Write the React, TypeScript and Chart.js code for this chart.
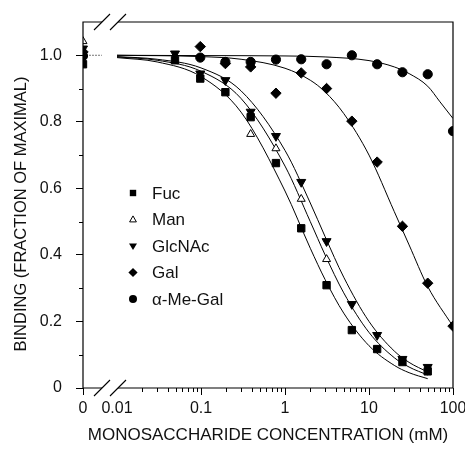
import React, { useEffect, useRef } from 'react';
import { Chart, registerables } from 'chart.js';

Chart.register(...registerables);

// ---------- data ----------
// position on the log axis used for concentration "0" (left of the axis break)
const ZERO_POS = -2.405;

const xTickValues = [ZERO_POS, -2, -1, 0, 1, 2];
const xTickLabels = ['0', '0.01', '0.1', '1', '10', '100'];
const yTickValues = [0, 0.2, 0.4, 0.6, 0.8, 1.0];
const yTickLabels = ['0', '0.2', '0.4', '0.6', '0.8', '1.0'];
const yMinorTicks = [0.1, 0.3, 0.5, 0.7, 0.9];
const xMinorDecades = [-2, -1, 0, 1];

const seriesNames = ['Fuc', 'Man', 'GlcNAc', 'Gal', 'α-Me-Gal'];
const xTitle = 'MONOSACCHARIDE CONCENTRATION (mM)';
const yTitle = 'BINDING (FRACTION OF MAXIMAL)';

const fucConc = [0, 0.049, 0.098, 0.195, 0.39, 0.78, 1.56, 3.125, 6.25, 12.5, 25, 50];
const fucBinding = [0.973, 0.985, 0.93, 0.889, 0.814, 0.676, 0.48, 0.309, 0.174, 0.117, 0.078, 0.05];

const manConc = [0, 0.39, 0.78, 1.56, 3.125];
const manBinding = [1.042, 0.763, 0.72, 0.568, 0.387];

const glcConc = [0, 0.049, 0.098, 0.195, 0.39, 0.78, 1.56, 3.125, 6.25, 12.5, 25, 50];
const glcBinding = [1.02, 1.005, 0.945, 0.925, 0.83, 0.757, 0.619, 0.441, 0.252, 0.159, 0.087, 0.063];

const galConc = [0, 0.098, 0.195, 0.39, 0.78, 1.56, 3.125, 6.25, 12.5, 25, 50, 100];
const galBinding = [1.01, 1.026, 0.975, 0.965, 0.886, 0.947, 0.9, 0.802, 0.679, 0.486, 0.315, 0.186];

const meGalConc = [0, 0.098, 0.195, 0.39, 0.78, 1.56, 3.125, 6.25, 12.5, 25, 50, 100];
const meGalBinding = [0.998, 0.993, 0.98, 0.98, 0.987, 0.988, 0.973, 1.0, 0.973, 0.949, 0.943, 0.772];

// fitted curves
const curveConc = [0.01, 0.03, 0.1, 0.3, 1, 2, 3, 5, 10, 20, 30, 50];
const fucCurve = [0.993, 0.98, 0.936, 0.829, 0.592, 0.42, 0.326, 0.225, 0.127, 0.068, 0.046, 0.028];
const manCurve = [0.995, 0.985, 0.952, 0.87, 0.667, 0.5, 0.4, 0.286, 0.167, 0.091, 0.063, 0.039];
const glcCurve = [0.996, 0.988, 0.962, 0.893, 0.714, 0.556, 0.455, 0.333, 0.2, 0.111, 0.077, 0.048];
const galCurveConc = [0.01, 0.1, 0.3, 1, 2, 3, 5, 10, 20, 30, 50, 100];
const galCurve = [1.0, 0.996, 0.988, 0.961, 0.925, 0.89, 0.825, 0.7, 0.53, 0.43, 0.305, 0.185];
const meGalCurveConc = [0.01, 0.1, 1, 3, 10, 20, 30, 50, 70, 100];
const meGalCurve = [1.0, 0.999, 0.998, 0.995, 0.984, 0.965, 0.945, 0.907, 0.86, 0.81];
// short dotted segment left of the break (value at concentration 0)
const zeroLineConc = [0, 0.0066];
const zeroLineValue = [1.0, 1.0];

// ---------- helpers ----------
const FONT = '"Liberation Sans", Arial, Helvetica, sans-serif';
const INK = '#111';

const toPos = (c: number) => (c === 0 ? ZERO_POS : Math.log10(c));
const pts = (xs: number[], ys: number[]) => xs.map((c, i) => ({ x: toPos(c), y: ys[i] }));

const markerDefs = [
  { style: 'rect', radius: 5.2, rotation: 0, fill: '#000' },
  { style: 'triangle', radius: 4.6, rotation: 0, fill: '#fff' },
  { style: 'triangle', radius: 5.2, rotation: 180, fill: '#000' },
  { style: 'rectRot', radius: 5.2, rotation: 0, fill: '#000' },
  { style: 'circle', radius: 4.6, rotation: 0, fill: '#000' },
];

function drawLegendMarker(ctx: CanvasRenderingContext2D, i: number, x: number, y: number) {
  ctx.save();
  ctx.fillStyle = '#000';
  ctx.strokeStyle = '#000';
  ctx.lineWidth = 1;
  ctx.beginPath();
  if (i === 0) {
    ctx.rect(x - 3.2, y - 3.2, 6.4, 6.4);
    ctx.fill();
  } else if (i === 1) {
    ctx.moveTo(x, y - 3.6);
    ctx.lineTo(x + 3.4, y + 2.4);
    ctx.lineTo(x - 3.4, y + 2.4);
    ctx.closePath();
    ctx.fillStyle = '#fff';
    ctx.fill();
    ctx.stroke();
  } else if (i === 2) {
    ctx.moveTo(x - 4, y - 2.6);
    ctx.lineTo(x + 4, y - 2.6);
    ctx.lineTo(x, y + 4);
    ctx.closePath();
    ctx.fill();
  } else if (i === 3) {
    ctx.moveTo(x, y - 4.6);
    ctx.lineTo(x + 4.6, y);
    ctx.lineTo(x, y + 4.6);
    ctx.lineTo(x - 4.6, y);
    ctx.closePath();
    ctx.fill();
  } else {
    ctx.arc(x, y, 4, 0, Math.PI * 2);
    ctx.fill();
  }
  ctx.restore();
}

const decorPlugin = {
  id: 'decor',
  afterDraw(chart: any) {
    const ctx: CanvasRenderingContext2D = chart.ctx;
    const { left, right, top, bottom } = chart.chartArea;
    const xs = chart.scales.x;
    const ys = chart.scales.y;
    ctx.save();
    ctx.strokeStyle = '#000';
    ctx.lineWidth = 1.2;
    // frame with axis break
    const gapA = left + 19;
    const gapB = left + 35;
    ctx.beginPath();
    ctx.moveTo(left, bottom + 0.5);
    ctx.lineTo(left, top);
    ctx.lineTo(gapA, top);
    ctx.moveTo(gapB, top);
    ctx.lineTo(right, top);
    ctx.lineTo(right, bottom);
    ctx.lineTo(gapB, bottom);
    ctx.moveTo(gapA, bottom);
    ctx.lineTo(left, bottom);
    ctx.stroke();
    // break slashes
    ctx.lineWidth = 1.1;
    ctx.beginPath();
    for (const yy of [top, bottom]) {
      ctx.moveTo(left + 11, yy + 8);
      ctx.lineTo(left + 27, yy - 8);
      ctx.moveTo(left + 27, yy + 8);
      ctx.lineTo(left + 43, yy - 8);
    }
    ctx.stroke();
    // minor ticks
    ctx.lineWidth = 1;
    ctx.beginPath();
    for (const d of xMinorDecades) {
      for (let k = 2; k <= 9; k++) {
        const px = Math.round(xs.getPixelForValue(d + Math.log10(k))) + 0.5;
        ctx.moveTo(px, bottom);
        ctx.lineTo(px, bottom + 4);
      }
    }
    for (const v of yMinorTicks) {
      const py = Math.round(ys.getPixelForValue(v)) + 0.5;
      ctx.moveTo(left - 4, py);
      ctx.lineTo(left, py);
    }
    ctx.stroke();
    // y-axis title
    ctx.save();
    ctx.translate(21, top + 192);
    ctx.rotate(-Math.PI / 2);
    ctx.font = `16.5px ${FONT}`;
    ctx.fillStyle = INK;
    ctx.textAlign = 'center';
    ctx.textBaseline = 'middle';
    ctx.fillText(yTitle, 0, 0);
    ctx.restore();
    // legend
    const lx = left + 50;
    const ly = top + 171;
    ctx.font = `17px ${FONT}`;
    ctx.fillStyle = INK;
    ctx.textBaseline = 'middle';
    ctx.textAlign = 'left';
    seriesNames.forEach((name, i) => {
      const y = ly + i * 26.5;
      drawLegendMarker(ctx, i, lx, y);
      ctx.fillStyle = INK;
      ctx.fillText(name, lx + 19, y + 1);
    });
    ctx.restore();
  },
};

function pointSet(label: string, data: any[], i: number) {
  const m = markerDefs[i];
  return {
    label,
    data,
    showLine: false,
    pointStyle: m.style,
    pointRadius: m.radius,
    rotation: m.rotation,
    pointBackgroundColor: m.fill,
    pointBorderColor: '#000',
    pointBorderWidth: 1,
    order: 1,
  };
}

function curveSet(label: string, data: any[], dash: number[] = [], color = '#000') {
  return {
    label,
    data,
    showLine: true,
    borderColor: color,
    borderWidth: 1,
    borderDash: dash,
    pointRadius: 0,
    cubicInterpolationMode: 'monotone',
    fill: false,
    order: 2,
  };
}

export default function App() {
  const ref = useRef<HTMLCanvasElement | null>(null);

  useEffect(() => {
    if (!ref.current) return;
    const tickFont = { family: FONT, size: 16 };
    const chart = new Chart(ref.current, {
      type: 'scatter',
      data: {
        datasets: [
          pointSet('Fuc', pts(fucConc, fucBinding), 0),
          pointSet('Man', pts(manConc, manBinding), 1),
          pointSet('GlcNAc', pts(glcConc, glcBinding), 2),
          pointSet('Gal', pts(galConc, galBinding), 3),
          pointSet('α-Me-Gal', pts(meGalConc, meGalBinding), 4),
          curveSet('Fuc fit', pts(curveConc, fucCurve)),
          curveSet('Man fit', pts(curveConc, manCurve)),
          curveSet('GlcNAc fit', pts(curveConc, glcCurve)),
          curveSet('Gal fit', pts(galCurveConc, galCurve)),
          curveSet('α-Me-Gal fit', pts(meGalCurveConc, meGalCurve)),
          curveSet('zero', pts(zeroLineConc, zeroLineValue), [2, 1], '#777'),
        ] as any,
      },
      options: {
        responsive: false,
        animation: false,
        events: [],
        layout: { padding: { top: 22, right: 12, left: 0, bottom: 0 } },
        plugins: {
          legend: { display: false },
          tooltip: { enabled: false },
        },
        scales: {
          x: {
            type: 'linear',
            min: ZERO_POS,
            max: 2,
            afterBuildTicks: (s: any) => {
              s.ticks = xTickValues.map((v) => ({ value: v }));
            },
            afterFit: (s: any) => {
              s.height = 64;
              s.paddingLeft = 0;
              s.paddingRight = 0;
            },
            border: { display: false },
            grid: {
              drawOnChartArea: false,
              drawTicks: true,
              tickLength: 7,
              tickWidth: 1,
              tickColor: (c: any) => (c.tick && c.tick.value === -2 ? 'rgba(0,0,0,0)' : '#000'),
            },
            ticks: {
              autoSkip: false,
              maxRotation: 0,
              padding: 4,
              color: INK,
              font: tickFont,
              callback: (v: any) => {
                const i = xTickValues.findIndex((t) => Math.abs(t - Number(v)) < 1e-6);
                return i >= 0 ? xTickLabels[i] : '';
              },
            },
            title: {
              display: true,
              text: xTitle,
              color: INK,
              font: { family: FONT, size: 17 },
              padding: { top: 0, bottom: 6 },
            },
          },
          y: {
            type: 'linear',
            min: 0,
            max: 1.1,
            afterBuildTicks: (s: any) => {
              s.ticks = yTickValues.map((v) => ({ value: v }));
            },
            afterFit: (s: any) => {
              s.width = 83;
              s.paddingTop = 0;
              s.paddingBottom = 0;
            },
            border: { display: false },
            grid: {
              drawOnChartArea: false,
              drawTicks: true,
              tickLength: 7,
              tickWidth: 1,
              tickColor: '#000',
            },
            ticks: {
              autoSkip: false,
              padding: 14,
              color: INK,
              font: tickFont,
              callback: (v: any) => {
                const i = yTickValues.findIndex((t) => Math.abs(t - Number(v)) < 1e-6);
                return i >= 0 ? yTickLabels[i] : '';
              },
            },
            title: { display: false },
          },
        },
      } as any,
      plugins: [decorPlugin],
    });
    return () => chart.destroy();
  }, []);

  return (
    <div style={{ position: 'fixed', left: 0, top: 0, width: 465, height: 452, background: '#fff' }}>
      <canvas ref={ref} width={465} height={452} style={{ display: 'block' }} />
    </div>
  );
}
